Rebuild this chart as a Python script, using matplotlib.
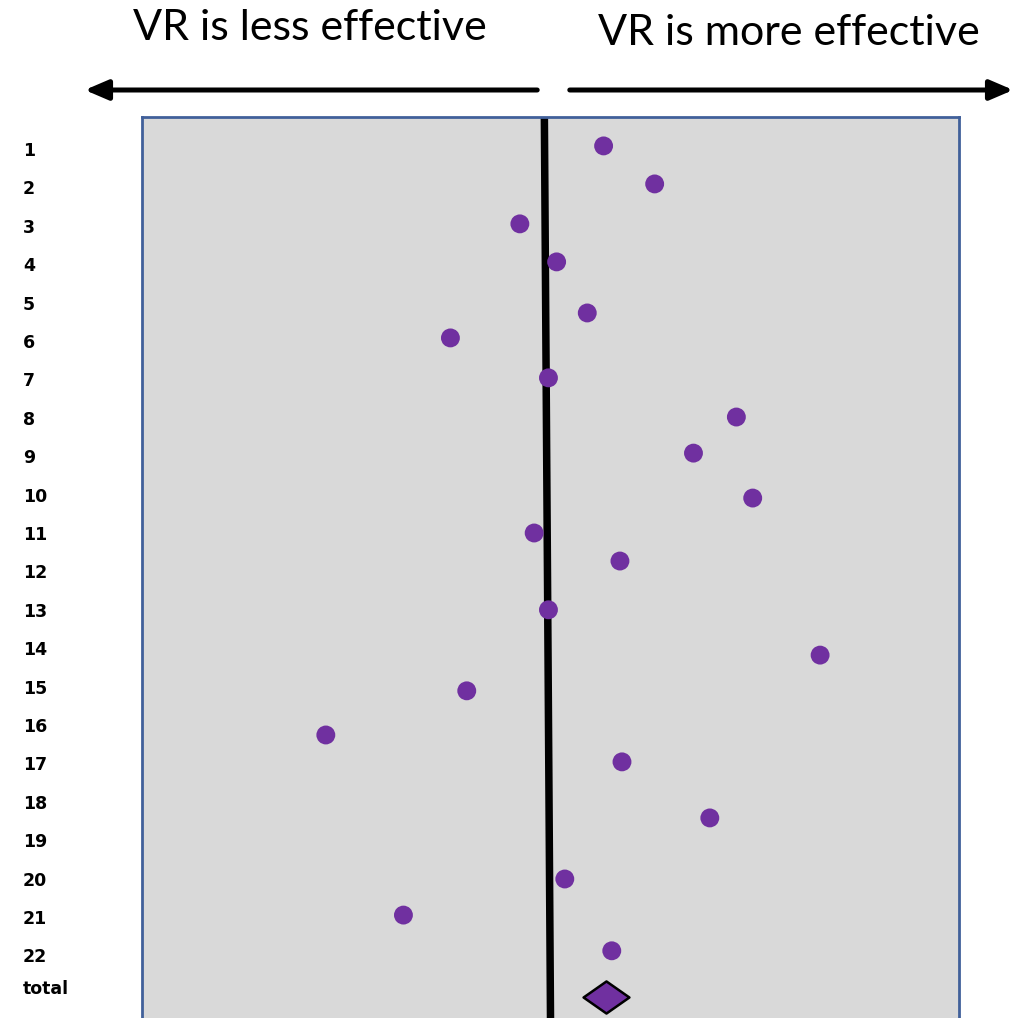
import matplotlib
matplotlib.use("Agg")
from matplotlib import pyplot as plt
from matplotlib.path import Path

# study labels (rows) and their positions
row_labels = [str(i) for i in range(1, 23)] + ["total"]
row_pos = list(range(1, 23)) + [22.82]

# effect of each study (x) and its row position (y)
effects = [0.26, 0.51, -0.15, 0.03, 0.18, -0.49, -0.01, 0.91, 0.70, 0.99, -0.08,
           0.34, -0.01, 1.32, -0.41, -1.10, 0.35, 0.78, 0.07, -0.72, 0.30]
effect_rows = [0.92, 1.91, 2.95, 3.94, 5.27, 5.92, 6.96, 7.98, 8.92, 10.09, 11.00,
               11.73, 13.00, 14.18, 15.11, 16.26, 16.96, 18.42, 20.01, 20.95, 21.88]

total_effect = 0.27
total_row = 23.08

# no-effect line (slightly tilted in the original)
null_x = [-0.03, 0.0]
y_top, y_bottom = 0.167, 23.63

fig = plt.figure(figsize=(10.30, 10.18), dpi=100)
ax = fig.add_axes([142 / 1030, 0, 817 / 1030, (1018 - 117) / 1018])
ax.set_facecolor("#d9d9d9")
ax.set_xlim(-2, 2)
ax.set_ylim(y_bottom, y_top)

for side in ["left", "right", "top"]:
    ax.spines[side].set_color("#41609a")
    ax.spines[side].set_linewidth(2)
ax.spines["bottom"].set_visible(False)

ax.plot(null_x, [y_top, y_bottom], color="black", lw=5.4, solid_capstyle="butt", zorder=2)

ax.scatter(effects, effect_rows, s=185, color="#7030a0", edgecolors="none", zorder=3)

diamond = Path([(-1, 0), (0, 0.7), (1, 0), (0, -0.7), (-1, 0)],
               [Path.MOVETO, Path.LINETO, Path.LINETO, Path.LINETO, Path.CLOSEPOLY])
ax.plot([total_effect], [total_row], marker=diamond, markersize=33,
        markerfacecolor="#7030a0", markeredgecolor="black", markeredgewidth=1.8,
        linestyle="none", zorder=4, clip_on=False)

ax.set_xticks([])
ax.set_yticks(row_pos)
ax.set_yticklabels(row_labels, fontsize=12.5, fontweight="bold", family="DejaVu Sans")
ax.tick_params(axis="y", length=0, pad=(142 - 23) * 0.72)
for t in ax.get_yticklabels():
    t.set_ha("left")

# arrows above the panel
arrow_style = "-|>,head_length=0.7,head_width=0.3"
fig.add_artist(plt.matplotlib.patches.FancyArrowPatch(
    (540, 928), (82, 928), transform=None, arrowstyle=arrow_style,
    mutation_scale=20, lw=3.6, color="black"))
fig.add_artist(plt.matplotlib.patches.FancyArrowPatch(
    (567, 928), (1016, 928), transform=None, arrowstyle=arrow_style,
    mutation_scale=20, lw=3.6, color="black"))

fig.text(310 / 1030, 1 - 28 / 1018, "VR is less effective", ha="center", va="center",
         fontsize=31, family="Lato")
fig.text(789 / 1030, 1 - 33 / 1018, "VR is more effective", ha="center", va="center",
         fontsize=31, family="Lato")

plt.savefig("out.png", dpi=100)
